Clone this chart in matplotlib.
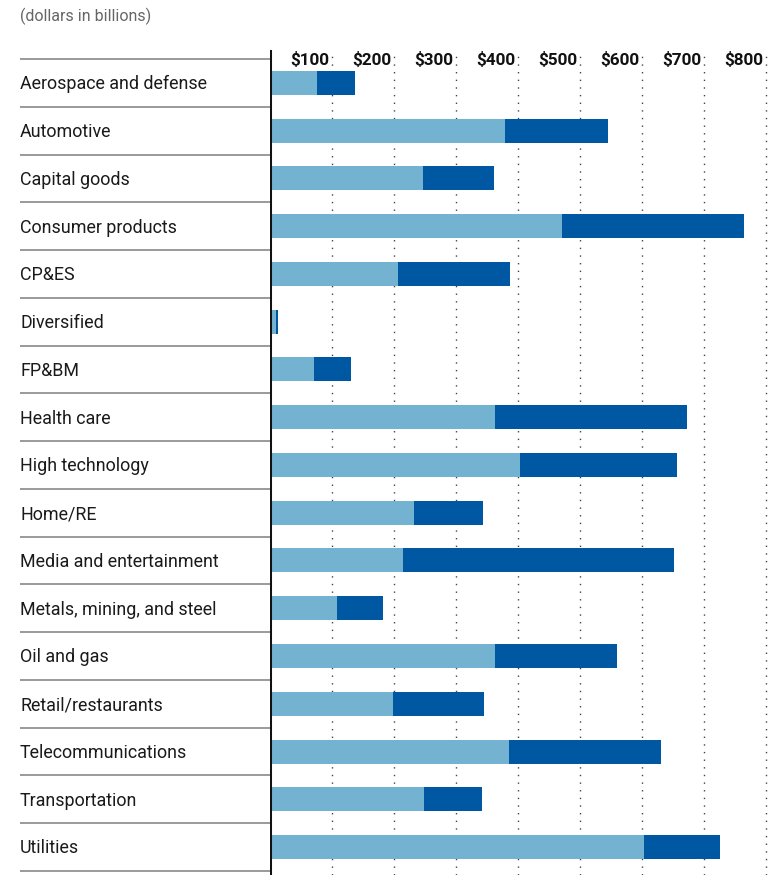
import matplotlib
matplotlib.use("Agg")
import matplotlib.pyplot as plt
import numpy as np

plt.rcParams['font.family'] = ['Roboto', 'DejaVu Sans']

categories = [
    "Aerospace and defense", "Automotive", "Capital goods", "Consumer products",
    "CP&ES", "Diversified", "FP&BM", "Health care", "High technology",
    "Home/RE", "Media and entertainment", "Metals, mining, and steel",
    "Oil and gas", "Retail/restaurants", "Telecommunications",
    "Transportation", "Utilities",
]
# first segment and overall total per sector ($bn)
first_part = [76, 379, 247, 471, 206, 10, 71, 363, 403, 232, 215, 108, 363, 198, 385, 248, 604]
totals = [137, 545, 361, 765, 387, 13, 130, 673, 656, 344, 652, 182, 560, 345, 631, 342, 726]
tick_values = [100, 200, 300, 400, 500, 600, 700, 800]
tick_labels = ["$100", "$200", "$300", "$400", "$500", "$600", "$700", "$800"]

LIGHT = "#74B2D1"
DARK = "#0058A3"

W, H = 781, 875
fig = plt.figure(figsize=(W / 100, H / 100), dpi=100)

ax_left, ax_right = 270, 781
ax_top, ax_bottom = 50, 875
ax = fig.add_axes([ax_left / W, (H - ax_bottom) / H,
                   (ax_right - ax_left) / W, (ax_bottom - ax_top) / H])

px_per_unit = 0.62
row_h = 47.76
first_row_top = 59
n = len(categories)
y = np.arange(n)

ax.set_xlim(0, (ax_right - ax_left) / px_per_unit)
ax.set_ylim(n - 0.5 + (ax_bottom - (first_row_top + n * row_h)) / row_h,
            -0.5 - (first_row_top - ax_top) / row_h)

first = np.array(first_part)
second = np.array(totals) - first
bar_h = 24 / row_h
ax.barh(y, first, height=bar_h, color=LIGHT, zorder=3)
ax.barh(y, second, left=first, height=bar_h, color=DARK, zorder=3)

# dotted gridlines
for v in tick_values:
    ax.axvline(v, color="#444444", lw=1.0, ls=(0, (1, 4.5)), zorder=1)

# tick labels at the top, right-aligned next to each gridline
label_y = -0.5 - (first_row_top - 60.5) / row_h
for v, t in zip(tick_values, tick_labels):
    ax.text(v - 5, label_y, t, ha="right", va="center",
            fontsize=12.3, fontweight="bold", color="#111111", zorder=4)

# row separators in the label column
sep_tr = ax.get_yaxis_transform()
x0 = (20 - ax_left) / (ax_right - ax_left)
for b in np.arange(n + 1) - 0.5:
    ax.plot([x0, 0], [b, b], transform=sep_tr, color="#9a9a9a", lw=1.4,
            clip_on=False, solid_capstyle="butt")

for yi, name in zip(y, categories):
    ax.text(x0, yi + 0.03, name, transform=sep_tr, ha="left", va="center",
            fontsize=12.9, color="#1a1a1a")

ax.axvline(0, color="#111111", lw=2.2, zorder=5)

for s in ax.spines.values():
    s.set_visible(False)
ax.set_xticks([])
ax.set_yticks([])

fig.text(20 / W, 1 - 16 / H, "(dollars in billions)", ha="left", va="center",
         fontsize=11.5, color="#666666")

fig.savefig("out.png", dpi=100)
